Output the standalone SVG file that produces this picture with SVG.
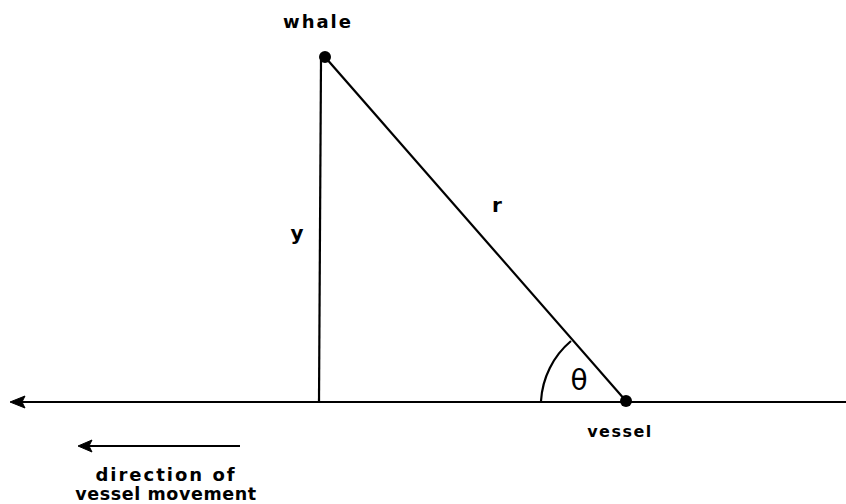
<svg xmlns="http://www.w3.org/2000/svg" width="846" height="504" viewBox="0 0 846 504">
<style>
.ln{stroke:#000;stroke-width:2.2;fill:none}
.ah{fill:#000;stroke:#000;stroke-width:1;stroke-linejoin:round}
.t{font-family:"DejaVu Sans",sans-serif;font-weight:bold;fill:#000}
.b{font-family:"DejaVu Sans",sans-serif;font-weight:bold;font-size:20px;fill:#000}
</style>
<rect width="846" height="504" fill="#fff"/>
<g id="connectors">
<line class="ln" x1="18" y1="402" x2="846" y2="402" stroke-width="2"/>
<path class="ah" d="M10,402 L25,396 L22,402 L25,408 Z"/>
<line class="ln" x1="321" y1="60" x2="319" y2="402"/>
<line class="ln" x1="325" y1="57" x2="626" y2="401"/>
<path class="ln" d="M541,401 A85,85 0 0 1 571,341" stroke-width="3.5"/>
<line class="ln" x1="86" y1="446" x2="240" y2="446" stroke-width="3"/>
<path class="ah" d="M78,446 L92,440 L89,446 L92,452 Z"/>
</g>
<g id="whale">
<circle cx="325" cy="57" r="6" fill="#000"/>
<text class="t" x="318" y="28" text-anchor="middle" font-size="18" letter-spacing="2">whale</text>
</g>
<g id="vessel">
<circle cx="626" cy="401" r="6" fill="#000"/>
<text class="t" x="620" y="437" text-anchor="middle" font-size="16" letter-spacing="1.5">vessel</text>
</g>
<g id="labels">
<text class="b" x="497" y="212" text-anchor="middle">r</text>
<text class="b" x="297" y="240" text-anchor="middle">y</text>
<text x="579" y="390" text-anchor="middle" font-family="DejaVu Sans,sans-serif" font-size="28" fill="#000">θ</text>
<text class="t" x="166" y="481" text-anchor="middle" font-size="18" letter-spacing="2">direction of</text>
<text class="t" x="166" y="500" text-anchor="middle" font-size="17.5" letter-spacing="0.6">vessel movement</text>
</g>
</svg>
